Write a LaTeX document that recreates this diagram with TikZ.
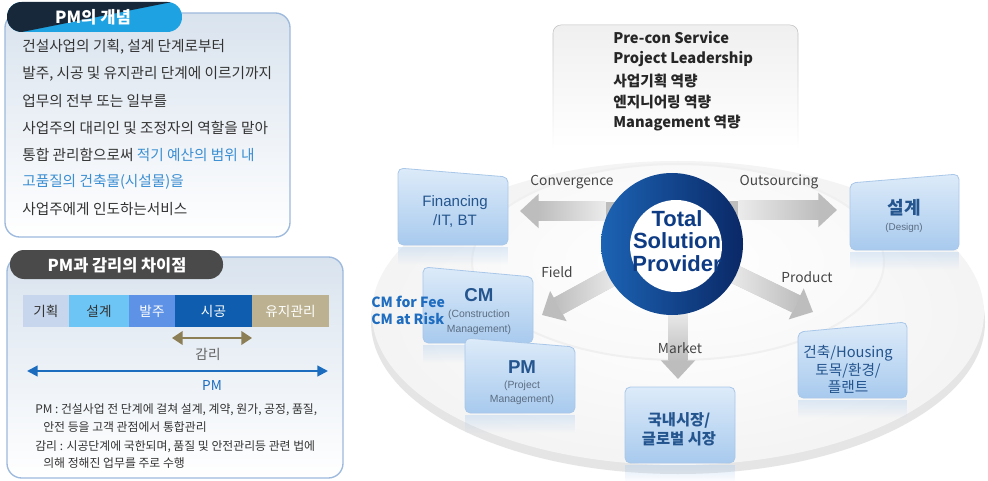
\documentclass[tikz,border=0pt]{standalone}
\usepackage{fontspec}
\setmainfont{Noto Sans CJK KR}
\newfontfamily\arialf{Liberation Sans}
\usetikzlibrary{arrows.meta,fadings,calc}
\tikzfading[name=fadedown, top color=transparent!0, bottom color=transparent!100]
\newcommand\fsz[2]{\fontsize{#1}{#2}\selectfont}
\definecolor{navytab}{HTML}{16283A}
\definecolor{cyantab}{HTML}{1EA2E2}
\definecolor{bodytxt}{HTML}{333333}
\definecolor{bluetxt}{HTML}{3A8ED2}
\definecolor{frameblue}{HTML}{9DB9DD}
\definecolor{paneltop}{HTML}{D9E3EE}
\definecolor{tabgrey}{HTML}{4A4A4A}
\definecolor{segA}{HTML}{C7D6EC}
\definecolor{segB}{HTML}{6CC5F4}
\definecolor{segC}{HTML}{5E92E6}
\definecolor{segD}{HTML}{0E5DAE}
\definecolor{segE}{HTML}{BCB190}
\definecolor{gamri}{HTML}{8C7E55}
\definecolor{pmblue}{HTML}{1B6CBE}
\definecolor{boxtop}{HTML}{DDEBF9}
\definecolor{boxbot}{HTML}{A8CAEE}
\definecolor{boxline}{HTML}{A9C7E8}
\definecolor{boxtxt}{HTML}{24558E}
\definecolor{subtxt}{HTML}{5B6D82}
\definecolor{arrowgrey}{HTML}{BDBDBD}
\definecolor{arrowlight}{HTML}{EBEBEB}
\definecolor{lbl}{HTML}{454545}
\definecolor{ringL}{HTML}{1C63B4}
\definecolor{ringR}{HTML}{0A2866}
\definecolor{tsptxt}{HTML}{0E3C84}
\definecolor{cmfee}{HTML}{1F6DC0}
\pgfdeclarelayer{paper}
\pgfdeclarelayer{disklayer}
\pgfdeclarelayer{arrowlayer}
\pgfsetlayers{paper,disklayer,arrowlayer,main}
\newcommand\skewbox[5]{%
  \fill[boxbot, opacity=0.35, path fading=fadedown] (#1,{#5+2}) rectangle (#2,{#5+20});
  \shade[top color=boxtop, bottom color=boxbot, rounded corners=4pt] (#1,#3) -- (#2,#4) -- (#2,#5) -- (#1,#5) -- cycle;
  \draw[boxline, line width=0.6pt, rounded corners=4pt] (#1,#3) -- (#2,#4) -- (#2,#5) -- (#1,#5) -- cycle;
}
% shaded shaft over a block arrow: #1 start, #2 tip, #3 shading keys, #4 prefix
\newcommand\shaftshade[4]{%
  \path ($(#1)!50pt!(#2)$) coordinate (#4s) ($(#2)!13.6pt!(#1)$) coordinate (#4b);
  \shade[#3] ($(#4s)!7.1pt!90:(#2)$) -- ($(#4s)!7.1pt!-90:(#2)$) -- ($(#4b)!7.1pt!90:(#4s)$) -- ($(#4b)!7.1pt!-90:(#4s)$) -- cycle;
}
\begin{document}
\begin{tikzpicture}[x=0.75pt,y=-0.75pt,
  bodyline/.style={anchor=west, inner sep=0, text=bodytxt, font=\fsz{11pt}{12pt}},
  noteline/.style={anchor=west, inner sep=0, text=bodytxt, font=\fsz{8.9pt}{10pt}},
  segbox/.style={rectangle, inner sep=0, minimum height=24pt, font=\fsz{10.2pt}{12pt}},
  pcline/.style={anchor=west, inner sep=0, text=black!85, font=\bfseries\fsz{11pt}{13pt}},
  flowlbl/.style={text=lbl, font=\fsz{10.3pt}{12pt}, inner sep=0},
  blockarrow/.style={draw=arrowgrey, line width=14pt, -{Triangle[width=25pt,length=14pt]}},
  boxhead/.style={text=boxtxt, inner sep=0, align=center},
  boxsub/.style={text=subtxt, inner sep=0, align=center, font=\arialf\fsz{7.8pt}{10.8pt}},
]
\path[use as bounding box] (0,0) rectangle (988,481);
\begin{pgfonlayer}{paper}
  \fill[white] (0,0) rectangle (988,481);
\end{pgfonlayer}

% ---------- panel 1 ----------
\shade[top color=paneltop, bottom color=white, rounded corners=11pt] (5,13) rectangle (290,237);
\draw[frameblue, line width=1pt, rounded corners=11pt] (5,13) rectangle (290,237);
\begin{scope}
  \clip[rounded corners=11pt] (7,2) rectangle (182,32);
  \fill[cyantab] (7,2) rectangle (182,32);
  \fill[navytab] (7,2) -- (172,2) -- (22,32) -- (7,32) -- cycle;
\end{scope}
\node[text=white, font=\bfseries\fsz{12.5pt}{14pt}] (tab1) at (93,17) {PM의 개념};
\node[bodyline] (l1) at (22,47) {건설사업의 기획, 설계 단계로부터};
\node[bodyline] (l2) at (22,74) {발주, 시공 및 유지관리 단계에 이르기까지};
\node[bodyline] (l3) at (22,101) {업무의 전부 또는 일부를};
\node[bodyline] (l4) at (22,128) {사업주의 대리인 및 조정자의 역할을 맡아};
\node[bodyline] (l5) at (22,155) {통합 관리함으로써 \textcolor{bluetxt}{적기 예산의 범위 내}};
\node[bodyline, text=bluetxt] (l6) at (22,182) {고품질의 건축물(시설물)을};
\node[bodyline] (l7) at (22,209) {사업주에게 인도하는서비스};

% ---------- panel 2 ----------
\shade[top color=paneltop, bottom color=white, rounded corners=11pt] (7,257) rectangle (343,478);
\draw[frameblue, line width=1pt, rounded corners=11pt] (7,257) rectangle (343,478);
\fill[tabgrey, rounded corners=10.5pt] (10,250) rectangle (223,279);
\node[text=white, font=\bfseries\fsz{12.3pt}{14pt}] (tab2) at (117,265) {PM과 감리의 차이점};

\node[segbox, fill=segA, text=bodytxt, minimum width=34.5pt] (s1) at (46,311) {기획};
\node[segbox, fill=segB, text=bodytxt, minimum width=45pt] (s2) at (99,311) {설계};
\node[segbox, fill=segC, text=white, minimum width=34.5pt] (s3) at (152,311) {발주};
\node[segbox, fill=segD, text=white, minimum width=57.75pt] (s4) at (213.5,311) {시공};
\node[segbox, fill=segE, text=white, minimum width=57.75pt] (s5) at (290.5,311) {유지관리};

\coordinate (gL) at (172,338);
\coordinate (gR) at (252,338);
\draw[gamri, line width=2.2pt, {Triangle[width=10pt,length=8pt]}-{Triangle[width=10pt,length=8pt]}] (gL) -- (gR);
\node[text=gray!75!black, font=\fsz{10.2pt}{12pt}] (gt) at (208,354) {감리};
\coordinate (pL) at (27,371);
\coordinate (pR) at (328,371);
\draw[pmblue, line width=1.6pt, {Triangle[width=8pt,length=8pt]}-{Triangle[width=8pt,length=8pt]}] (pL) -- (pR);
\node[text=pmblue, font=\fsz{10.2pt}{12pt}] (pmt) at (212,386) {PM};

\node[noteline] (n1) at (35,410) {PM : 건설사업 전 단계에 걸쳐 설계, 계약, 원가, 공정, 품질,};
\node[noteline] (n2) at (43,427) {안전 등을 고객 관점에서 통합관리};
\node[noteline] (n3) at (35,447) {감리 : 시공단계에 국한되며, 품질 및 안전관리등 관련 법에};
\node[noteline] (n4) at (43,463) {의해 정해진 업무를 주로 수행};

% ---------- disk ----------
\begin{pgfonlayer}{disklayer}
  \fill[gray!20] (678,322) ellipse [x radius=307, y radius=152];
  \shade[inner color=white, outer color=gray!9] (678,313) ellipse [x radius=306, y radius=152];
  \shade[inner color=white, outer color=gray!5] (678,262) ellipse [x radius=206, y radius=98];
  \draw[gray!12, line width=1.5pt] (678,262) ellipse [x radius=206, y radius=98];
\end{pgfonlayer}

% ---------- top box ----------
\shade[top color=gray!12, bottom color=white, rounded corners=6pt] (553,25) rectangle (798,148);
\draw[gray!50, rounded corners=6pt, path fading=fadedown] (553,148) -- (553,25) -- (798,25) -- (798,148);
\node[pcline] (pc1) at (613,38) {Pre-con Service};
\node[pcline] (pc2) at (613,59.5) {Project Leadership};
\node[pcline] (pc3) at (613,81) {사업기획 역량};
\node[pcline] (pc4) at (613,102) {엔지니어링 역량};
\node[pcline] (pc5) at (613,123) {Management 역량};

% ---------- centre circle ----------
\node[circle, minimum size=106.5pt, inner sep=0, left color=ringL, right color=ringR] (tsp) at (672,244) {};
\node[circle, fill=white, minimum size=69pt, inner sep=0] (tspin) at (676,246) {};
\node[text=tsptxt, align=center, inner sep=0, font=\arialf\bfseries\fsz{16.5pt}{17pt}] (tsptext) at (677,241) {Total\\Solution\\Provider};

% ---------- block arrows ----------
\coordinate (cvtip) at (520,211);
\coordinate (ostip) at (837,210);
\coordinate (fdtip) at (542,315);
\coordinate (prtip) at (813,312);
\coordinate (mktip) at (678,379);
\coordinate (cvstart) at (tsp.center |- cvtip);
\coordinate (osstart) at (tsp.center |- ostip);
\coordinate (mkstart) at (tsp.center -| mktip);
\begin{pgfonlayer}{arrowlayer}
  \draw[blockarrow] (tsp.center |- cvtip) -- (cvtip);
  \draw[blockarrow] (tsp.center |- ostip) -- (ostip);
  \draw[blockarrow] (tsp.center) -- (fdtip);
  \draw[blockarrow] (tsp.center) -- (prtip);
  \draw[blockarrow] (tsp.center -| mktip) -- (mktip);
  \shaftshade{cvstart}{cvtip}{left color=arrowgrey, right color=arrowlight}{cv}
  \shaftshade{osstart}{ostip}{left color=arrowlight, right color=arrowgrey}{os}
  \shaftshade{tsp.center}{fdtip}{left color=arrowgrey, right color=arrowlight}{fd}
  \shaftshade{tsp.center}{prtip}{left color=arrowlight, right color=arrowgrey}{pr}
  \shaftshade{mkstart}{mktip}{top color=arrowlight, bottom color=arrowgrey}{mk}
\end{pgfonlayer}
\node[flowlbl] (lcv) at (572,182) {Convergence};
\node[flowlbl] (los) at (779,182) {Outsourcing};
\node[flowlbl] (lfd) at (557,272) {Field};
\node[flowlbl] (lpr) at (807,277) {Product};
\node[flowlbl] (lmk) at (680,348) {Market};

% ---------- boxes ----------
\skewbox{398}{508}{168}{177}{245}
\node[boxhead, font=\arialf\fsz{11.3pt}{14.2pt}] (fin) at (455,211.5) {Financing\\/IT, BT};

\skewbox{850}{959}{183}{174}{250}
\node[boxhead, font=\bfseries\fsz{13.5pt}{15pt}] (des) at (904,208) {설계};
\node[boxsub, font=\arialf\fsz{7.4pt}{9pt}] (dessub) at (904,228) {(Design)};

\skewbox{423}{533}{267}{277}{343}
\node[boxhead, font=\arialf\bfseries\fsz{14pt}{15pt}] (cm) at (479,295) {CM};
\node[boxsub] (cmsub) at (479,322.5) {(Construction\\Management)};

\skewbox{465}{575}{338}{347}{413}
\node[boxhead, font=\arialf\bfseries\fsz{14pt}{15pt}] (pm) at (522,367) {PM};
\node[boxsub] (pmsub) at (522,393) {(Project\\Management)};

\skewbox{625}{735}{387}{387}{463}
\node[boxhead, font=\bfseries\fsz{11.5pt}{14.25pt}] (mkt) at (679,429.5) {국내시장/\\글로벌 시장};

\skewbox{798}{907}{332}{322}{398}
\node[boxhead, font=\fsz{11pt}{13.1pt}] (bld) at (848,369.5) {건축/Housing\\토목/환경/\\플랜트};

\node[anchor=west, inner sep=0, text=cmfee, font=\bfseries\fsz{10.5pt}{12pt}] (fee1) at (371,302) {CM for Fee};
\node[anchor=west, inner sep=0, text=cmfee, font=\bfseries\fsz{10.5pt}{12pt}] (fee2) at (371,319) {CM at Risk};
\end{tikzpicture}
\end{document}
